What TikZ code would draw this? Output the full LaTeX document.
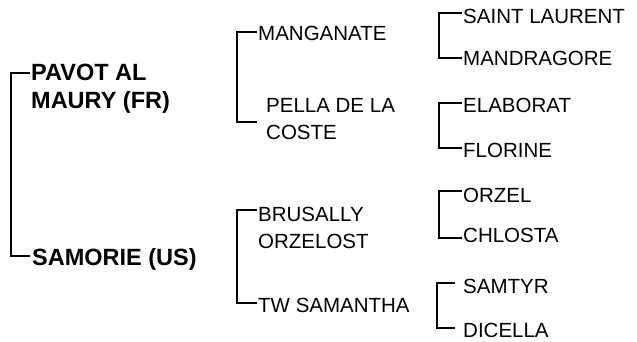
\documentclass[tikz,border=0pt]{standalone}
\usepackage{fontspec}
\setmainfont{Liberation Sans}

\begin{document}
\begin{tikzpicture}[x=1pt,y=-1pt,
    horse/.style={anchor=base west,inner sep=0pt,align=left,font=\fontsize{20.5}{26.5}\selectfont},
    parent/.style={horse,font=\fontsize{23.5}{27.5}\selectfont\bfseries},
    bracket/.style={line width=1.8pt}]
\useasboundingbox (0,0) rectangle (637,341);

    % parents (base = last line)
    \node[parent] (pavot) at (31,108) {PAVOT AL\\MAURY (FR)};
    \node[parent] (samorie) at (32,265) {SAMORIE (US)};
    % grandparents
    \node[horse] (manganate) at (258,40) {MANGANATE};
    \node[horse] (pella) at (266,139) {PELLA DE LA\\COSTE};
    \node[horse] (brusally) at (258,248) {BRUSALLY\\ORZELOST};
    \node[horse] (samantha) at (258,312) {TW SAMANTHA};
    % great grandparents
    \node[horse] (saint) at (463,23) {SAINT LAURENT};
    \node[horse] (mandragore) at (463,65) {MANDRAGORE};
    \node[horse] (elaborat) at (463,112) {ELABORAT};
    \node[horse] (florine) at (463,157) {FLORINE};
    \node[horse] (orzel) at (463,202) {ORZEL};
    \node[horse] (chlosta) at (463,242) {CHLOSTA};
    \node[horse] (samtyr) at (463,293) {SAMTYR};
    \node[horse] (dicella) at (463,337) {DICELLA};

    % tick ends
    \coordinate (pavot-t) at (30,73);
    \coordinate (samorie-t) at (30,256);
    \coordinate (manganate-t) at (257,32);
    \coordinate (pella-t) at (257,122);
    \coordinate (brusally-t) at (257,210);
    \coordinate (samantha-t) at (257,303);
    \coordinate (saint-t) at (462,13);
    \coordinate (mandragore-t) at (462,58);
    \coordinate (elaborat-t) at (462,103);
    \coordinate (florine-t) at (462,148);
    \coordinate (orzel-t) at (462,191);
    \coordinate (chlosta-t) at (462,238);
    \coordinate (samtyr-t) at (455,283);
    \coordinate (dicella-t) at (455,328);

    \draw[bracket] (pavot-t) -- ++(-19,0) |- (samorie-t);
    \draw[bracket] (manganate-t) -- ++(-20,0) |- (pella-t);
    \draw[bracket] (brusally-t) -- ++(-20,0) |- (samantha-t);
    \draw[bracket] (saint-t) -- ++(-23,0) |- (mandragore-t);
    \draw[bracket] (elaborat-t) -- ++(-23,0) |- (florine-t);
    \draw[bracket] (orzel-t) -- ++(-23,0) |- (chlosta-t);
    \draw[bracket] (samtyr-t) -- ++(-18,0) |- (dicella-t);
\end{tikzpicture}
\end{document}
